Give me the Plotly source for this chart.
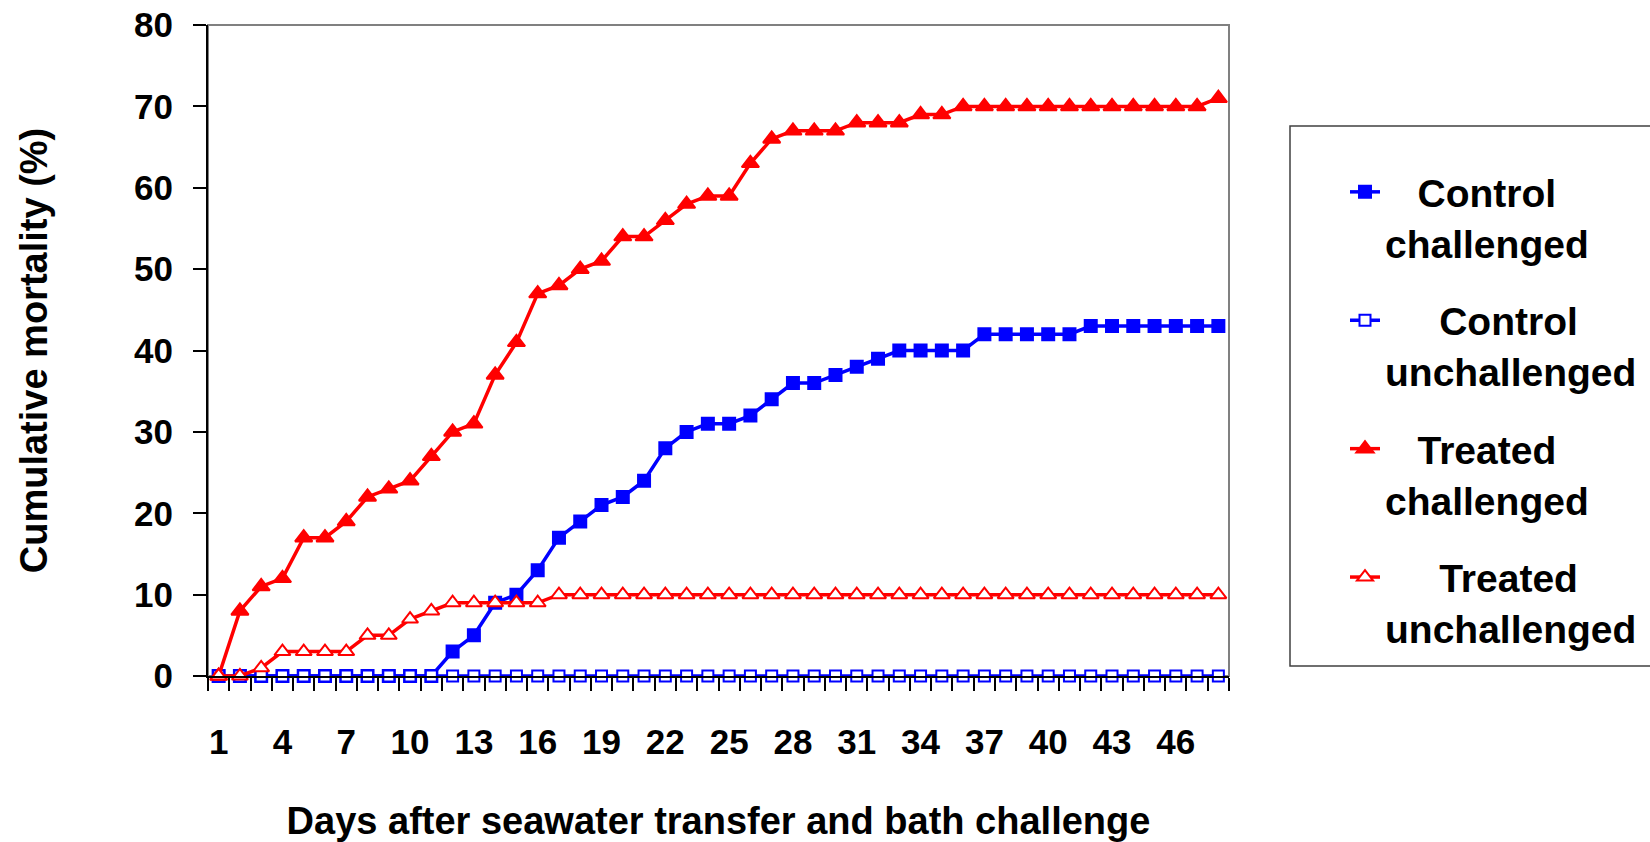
import plotly.graph_objects as go

days = list(range(1, 49))

control_challenged = [0, 0, 0, 0, 0, 0, 0, 0, 0, 0, 0, 3, 5, 9, 10, 13, 17, 19, 21, 22,
                      24, 28, 30, 31, 31, 32, 34, 36, 36, 37, 38, 39, 40, 40, 40, 40,
                      42, 42, 42, 42, 42, 43, 43, 43, 43, 43, 43, 43]
control_unchallenged = [0] * 48
treated_challenged = [0, 8, 11, 12, 17, 17, 19, 22, 23, 24, 27, 30, 31, 37, 41, 47, 48, 50,
                      51, 54, 54, 56, 58, 59, 59, 63, 66, 67, 67, 67, 68, 68, 68, 69, 69,
                      70, 70, 70, 70, 70, 70, 70, 70, 70, 70, 70, 70, 71]
treated_unchallenged = [0, 0, 1, 3, 3, 3, 3, 5, 5, 7, 8, 9, 9, 9, 9, 9, 10, 10, 10, 10,
                        10, 10, 10, 10, 10, 10, 10, 10, 10, 10, 10, 10, 10, 10, 10, 10,
                        10, 10, 10, 10, 10, 10, 10, 10, 10, 10, 10, 10]

NB = "\u00a0"
names = [
    NB * 3 + "Control<br>challenged",
    NB * 5 + "Control<br>unchallenged",
    NB * 3 + "Treated<br>challenged",
    NB * 5 + "Treated<br>unchallenged",
]

BLUE = "#0000FF"
RED = "#FF0000"
FONT = "Liberation Sans, Arial, sans-serif"

series = [
    (control_challenged, names[0], BLUE, "square", BLUE, 12),
    (control_unchallenged, names[1], BLUE, "square", "white", 11),
    (treated_challenged, names[2], RED, "triangle-up", RED, 15),
    (treated_unchallenged, names[3], RED, "triangle-up", "white", 14),
]

fig = go.Figure()
for i, (vals, name, col, sym, fill, size) in enumerate(series):
    fig.add_trace(go.Scatter(
        x=days, y=vals, name=name, mode="lines+markers",
        line=dict(color=col, width=3.5),
        marker=dict(symbol=sym, size=size, color=fill, line=dict(color=col, width=2)),
        cliponaxis=False, legendgroup=f"g{i}",
    ))

W, H = 1650, 842
L, R, T, B = 208, 1229, 25, 676
PW, PH = R - L, B - T


def px(x):
    return (x - L) / PW


def py(y):
    return (B - y) / PH


fig.update_layout(
    width=W, height=H,
    margin=dict(l=L, r=W - R, t=T, b=H - B, pad=0, autoexpand=False),
    paper_bgcolor="white", plot_bgcolor="white",
    font=dict(family=FONT, color="black", weight="bold"),
    showlegend=True,
    legend=dict(
        x=px(1345), y=py(160), xanchor="left", yanchor="top",
        bgcolor="rgba(0,0,0,0)", borderwidth=0,
        font=dict(family=FONT, size=39, color="black", weight="bold"),
        valign="top", tracegroupgap=24, itemwidth=30,
    ),
    shapes=[
        dict(type="rect", xref="paper", yref="paper", x0=0, x1=1, y0=0, y1=1,
             line=dict(color="#808080", width=2), layer="below"),
        dict(type="rect", xref="paper", yref="paper",
             x0=px(1290), x1=px(1670), y0=py(666), y1=py(126),
             line=dict(color="#404040", width=1.5), fillcolor="rgba(0,0,0,0)", layer="below"),
    ],
)

fig.update_xaxes(
    range=[0.5, 48.5], tickmode="linear", tick0=1, dtick=3, ticks="",
    showgrid=False, zeroline=False, showline=True, linecolor="black", linewidth=2,
    automargin=False, ticklabeloverflow="allow",
    tickfont=dict(family=FONT, size=35, color="black", weight="bold"),
    ticklabelstandoff=34,
    minor=dict(tickmode="linear", tick0=0.5, dtick=1, ticks="outside", ticklen=13,
               tickcolor="black", tickwidth=1.5, showgrid=False),
    title=dict(text="Days after seawater transfer and bath challenge",
               font=dict(family=FONT, size=38, color="black", weight="bold"), standoff=55),
)
fig.update_yaxes(
    range=[0, 80], tickmode="linear", tick0=0, dtick=10, ticks="outside", ticklen=13,
    tickcolor="black", tickwidth=1.5, automargin=False, ticklabeloverflow="allow",
    showgrid=False, zeroline=False, showline=True, linecolor="black", linewidth=2,
    tickfont=dict(family=FONT, size=35, color="black", weight="bold"),
    ticklabelstandoff=13,
    title=dict(text="Cumulative mortality (%)",
               font=dict(family=FONT, size=38, color="black", weight="bold"), standoff=75),
)

fig.write_html("out.html", config={"displayModeBar": False},
               post_script="document.body.style.margin='0';")
